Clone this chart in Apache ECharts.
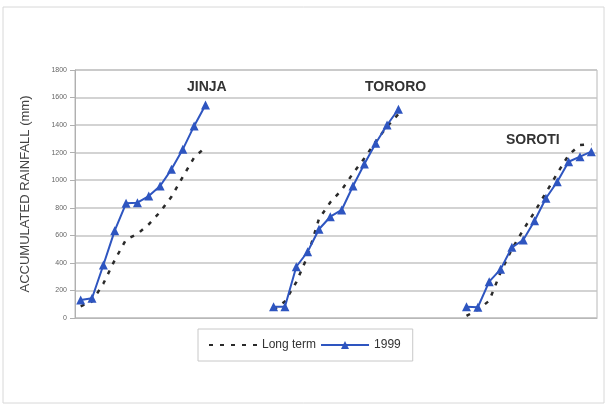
<!DOCTYPE html>
<html>
<head>
<meta charset="utf-8">
<script src="https://cdn.jsdelivr.net/npm/echarts@6/dist/echarts.min.js"></script>
<style>html,body{margin:0;padding:0;background:#fff;}#c{width:607px;height:406px;}</style>
</head>
<body>
<div id="c"></div>
<script>
// Stations (12 monthly accumulated values each)
const stations = ['JINJA', 'TORORO', 'SOROTI'];
const gapSize = 5; // empty categories between stations
const jinja1999 = [131, 143, 385, 634, 832, 837, 885, 958, 1079, 1224, 1394, 1546];
const jinjaLong = [85, 120, 250, 420, 570, 610, 680, 770, 880, 1025, 1165, 1240];
const tororo1999 = [82, 82, 372, 481, 644, 735, 784, 958, 1118, 1268, 1401, 1515];
const tororoLong = [60, 120, 260, 450, 720, 840, 930, 1050, 1160, 1280, 1390, 1480];
const soroti1999 = [82, 78, 264, 353, 513, 566, 706, 869, 989, 1134, 1171, 1207];
const sorotiLong = [15, 60, 125, 330, 500, 640, 770, 910, 1050, 1183, 1256, 1262];
const yTicks = [0, 200, 400, 600, 800, 1000, 1200, 1400, 1600, 1800];

function combine(arrs) {
  const out = [];
  arrs.forEach((a, i) => {
    if (i > 0) for (let k = 0; k < gapSize; k++) out.push(null);
    a.forEach(v => out.push(v));
  });
  return out;
}
const series1999 = combine([jinja1999, tororo1999, soroti1999]);
const seriesLong = combine([jinjaLong, tororoLong, sorotiLong]);
const cats = series1999.map((_, i) => String(i));

const chart = echarts.init(document.getElementById('c'), null, {renderer: 'canvas'});
chart.setOption({
  animation: false,
  backgroundColor: '#fff',
  grid: {left: 75, right: 10, top: 70, bottom: 88, show: true, borderColor: '#b8b8b8', borderWidth: 1},
  xAxis: {
    type: 'category', data: cats, boundaryGap: true,
    axisLine: {show: true, lineStyle: {color: '#b8b8b8'}},
    axisTick: {show: false}, axisLabel: {show: false}, splitLine: {show: false}
  },
  yAxis: {
    type: 'value', min: yTicks[0], max: yTicks[yTicks.length - 1], interval: 200,
    name: 'ACCUMULATED RAINFALL (mm)', nameLocation: 'middle', nameGap: 43,
    nameTextStyle: {fontFamily: 'Liberation Sans, Arial', fontSize: 13, color: '#444'},
    axisLine: {show: true, lineStyle: {color: '#b0b0b0'}},
    axisTick: {show: true, length: 5, lineStyle: {color: '#b0b0b0'}},
    axisLabel: {fontFamily: 'Liberation Sans, Arial', fontSize: 7, color: '#666', margin: 8,
      formatter: v => String(v)},
    splitLine: {show: true, lineStyle: {color: '#c4c4c4', width: 1.5}}
  },
  legend: {
    left: 198, top: 329, width: 259,
    padding: [10, 12, 10, 10], itemGap: 4,
    borderColor: '#c8c8c8', borderWidth: 1,
    itemWidth: 48, itemHeight: 10,
    textStyle: {fontFamily: 'Liberation Sans, Arial', fontSize: 12, color: '#333'},
    data: [{name: 'Long term', itemStyle: {opacity: 0}}, '1999']
  },
  series: [
    {
      name: 'Long term', type: 'line', data: seriesLong, connectNulls: false,
      symbol: 'none', z: 2,
      lineStyle: {color: '#2a2a2a', width: 2.5, type: [4, 7]},
      itemStyle: {color: '#2a2a2a'}
    },
    {
      name: '1999', type: 'line', data: series1999, connectNulls: false,
      symbol: 'triangle', symbolSize: 9, showAllSymbol: true, z: 3,
      lineStyle: {color: '#2e55c0', width: 2},
      itemStyle: {color: '#2e55c0'}
    }
  ],
  graphic: [
    {type: 'rect', shape: {x: 3, y: 7, width: 601, height: 396}, style: {fill: null, stroke: '#d8d8d8', lineWidth: 1}, silent: true},
    {type: 'text', left: 187, top: 80, style: {text: stations[0], font: 'bold 14px Liberation Sans, Arial', fill: '#333'}},
    {type: 'text', left: 365, top: 80, style: {text: stations[1], font: 'bold 14px Liberation Sans, Arial', fill: '#333'}},
    {type: 'text', left: 506, top: 133, style: {text: stations[2], font: 'bold 14px Liberation Sans, Arial', fill: '#333'}}
  ]
});
</script>
</body>
</html>
